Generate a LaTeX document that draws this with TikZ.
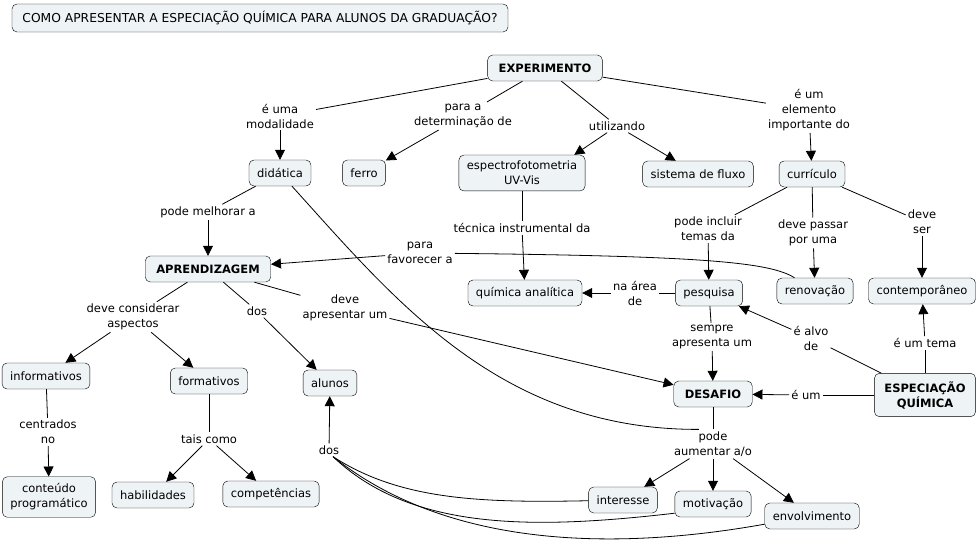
\documentclass[tikz,border=0pt]{standalone}
\usepackage{fontspec}
\setmainfont{DejaVu Sans}
\usetikzlibrary{arrows.meta}

\definecolor{conceptfill}{RGB}{238,243,246}
\newcommand{\mapfont}{\fontsize{11.5}{15}\selectfont}

\tikzset{
  concept/.style={draw,rectangle,rounded corners=5pt,fill=conceptfill,
    inner xsep=8pt,inner ysep=6pt,minimum height=26pt,align=center},
  keyconcept/.style={concept,inner xsep=11pt,font=\mapfont\bfseries},
  phrase/.style={inner sep=2pt,align=center},
  link/.style={draw,line width=0.8pt},
  arrow/.style={link,-{Triangle[length=10pt,width=10pt]}}
}

\begin{document}
\begin{tikzpicture}[x=1pt,y=-1pt,font=\mapfont]

  \useasboundingbox (0,0) rectangle (980,540);

  \node [concept,minimum width=496pt,minimum height=28pt,font=\fontsize{12.3}{15}\selectfont] (question) at (260,18) {COMO APRESENTAR A ESPECIAÇÃO QUÍMICA PARA ALUNOS DA GRADUAÇÃO?};

  \node [keyconcept] (experimento) at (545,68) {EXPERIMENTO};
  \node [concept] (didatica) at (280,173) {didática};
  \node [concept] (ferro) at (364,173) {ferro};
  \node [concept] (espectro) at (522,173) {espectrofotometria\\UV-Vis};
  \node [concept] (fluxo) at (698,174) {sistema de fluxo};
  \node [concept] (curriculo) at (812,174) {currículo};
  \node [keyconcept] (aprendizagem) at (208,269) {APRENDIZAGEM};
  \node [concept] (analitica) at (525,293) {química analítica};
  \node [concept] (pesquisa) at (709,293) {pesquisa};
  \node [concept] (renovacao) at (815,291) {renovação};
  \node [concept] (contemporaneo) at (922,291) {contemporâneo};
  \node [concept] (informativos) at (46,376) {informativos};
  \node [concept] (formativos) at (209,381) {formativos};
  \node [concept] (alunos) at (330,383) {alunos};
  \node [keyconcept] (desafio) at (713,394) {DESAFIO};
  \node [keyconcept,inner xsep=10pt,inner ysep=8pt] (especiacao) at (925,395) {ESPECIAÇÃO\\QUÍMICA};
  \node [concept,inner ysep=7pt] (conteudo) at (49,497) {conteúdo\\programático};
  \node [concept] (habilidades) at (153,495) {habilidades};
  \node [concept] (competencias) at (271,494) {competências};
  \node [concept] (interesse) at (623,500) {interesse};
  \node [concept] (motivacao) at (713,504) {motivação};
  \node [concept] (envolvimento) at (812,516) {envolvimento};

  \node [phrase] (modalidade) at (280,116) {é uma\\modalidade};
  \node [phrase] (determinacao) at (463,116) {para a\\determinação de};
  \node [phrase] (utilizando) at (617,126) {utilizando};
  \node [phrase] (importante) at (809,110) {é um\\elemento\\importante do};
  \node [phrase] (melhorar) at (208,212) {pode melhorar a};
  \node [phrase] (tecnica) at (522,228) {técnica instrumental da};
  \node [phrase] (incluir) at (708,229) {pode incluir\\temas da};
  \node [phrase] (passar) at (813,233) {deve passar\\por uma};
  \node [phrase] (deveser) at (922,222) {deve\\ser};
  \node [phrase] (favorecer) at (420,253) {para\\favorecer a};
  \node [phrase] (area) at (635,293) {na área\\de};
  \node [phrase] (considerar) at (133,317) {deve considerar\\aspectos};
  \node [phrase] (dosaprend) at (257,311) {dos};
  \node [phrase] (apresentar) at (345,308) {deve\\apresentar um};
  \node [phrase] (sempre) at (712,337) {sempre\\apresenta um};
  \node [phrase] (alvo) at (811,338) {é alvo\\de};
  \node [phrase] (tema) at (925,343) {é um tema};
  \node [phrase] (eum) at (806,395) {é um};
  \node [phrase] (centrados) at (48,432) {centrados\\no};
  \node [phrase] (taiscomo) at (209,439) {tais como};
  \node [phrase] (dosalunos) at (329,450) {dos};
  \node [phrase] (aumentar) at (713,444) {pode\\aumentar a/o};

  \path [link]
    (experimento) edge (modalidade)
    (experimento) edge (determinacao)
    (experimento) edge (utilizando)
    (experimento) edge (importante)
    (didatica)    edge (melhorar)
    (espectro)    edge (tecnica)
    (curriculo)   edge (incluir)
    (curriculo)   edge (passar)
    (curriculo)   edge (deveser)
    (pesquisa)    edge (area)
    (pesquisa)    edge (sempre)
    (especiacao)  edge (alvo)
    (especiacao)  edge (tema)
    (especiacao)  edge (eum)
    (aprendizagem) edge (considerar)
    (aprendizagem) edge (dosaprend)
    (aprendizagem) edge (apresentar)
    (informativos) edge (centrados)
    (formativos)  edge (taiscomo)
    (desafio)     edge (aumentar);

  \path [arrow]
    (modalidade)   edge (didatica)
    (determinacao) edge (ferro)
    (utilizando)   edge ([xshift=-11pt]espectro.north east)
    (utilizando)   edge (fluxo)
    (importante)   edge (curriculo)
    (melhorar)     edge (aprendizagem)
    (tecnica)      edge (analitica)
    (incluir)      edge (pesquisa)
    (passar)       edge (renovacao)
    (deveser)      edge (contemporaneo)
    (favorecer)    edge (aprendizagem)
    (area)         edge (analitica)
    (sempre)       edge (desafio)
    (alvo)         edge (pesquisa)
    (tema)         edge (contemporaneo)
    (eum)          edge (desafio)
    (considerar)   edge (informativos)
    (considerar)   edge (formativos)
    (dosaprend)    edge (alunos)
    (apresentar)   edge (desafio)
    (centrados)    edge (conteudo)
    (taiscomo)     edge (habilidades)
    (taiscomo)     edge (competencias)
    (dosalunos)    edge (alunos)
    (aumentar)     edge (interesse)
    (aumentar)     edge (motivacao)
    (aumentar)     edge (envolvimento);

  \draw [link] (renovacao) .. controls (770,262) and (700,256) .. (favorecer);
  \draw [link] (didatica) .. controls (395,300) and (500,430) .. ([xshift=27pt]aumentar.north west);
  \draw [link] (interesse) .. controls (480,503) and (400,500) .. ([xshift=4pt]dosalunos.south);
  \draw [link] ([yshift=4pt]motivacao.south west) .. controls (530,530) and (410,530) .. ([xshift=4pt]dosalunos.south);
  \draw [link] ([yshift=5pt]envolvimento.south west) .. controls (620,550) and (450,550) .. ([xshift=4pt]dosalunos.south);

\end{tikzpicture}
\end{document}
